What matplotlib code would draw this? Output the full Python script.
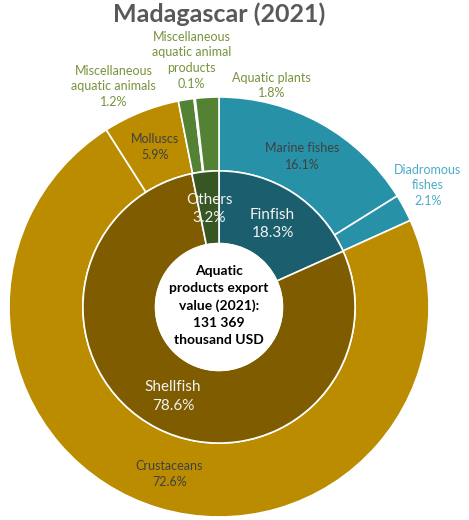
import numpy as np
import matplotlib.pyplot as plt

plt.rcParams['font.family'] = ['Lato', 'DejaVu Sans']

# outer ring: product groups (% of export value)
outer_names = ['Marine fishes', 'Diadromous\nfishes', 'Crustaceans', 'Molluscs',
               'Miscellaneous\naquatic animals', 'Miscellaneous\naquatic animal\nproducts',
               'Aquatic plants']
outer_vals = [16.1, 2.1, 72.6, 5.9, 1.2, 0.1, 1.8]
outer_cols = ['#2792A7', '#2792A7', '#BB8C00', '#BB8C00', '#548235', '#548235', '#548235']

# inner ring: main categories
inner_names = ['Finfish', 'Shellfish', 'Others']
inner_vals = [18.3, 78.6, 3.2]
inner_cols = ['#1B5E6D', '#7F5C00', '#375623']

center_txt = 'Aquatic\nproducts export\nvalue (2021):\n131 369\nthousand USD'

fig = plt.figure(figsize=(4.69, 5.2), dpi=100)
ax = fig.add_axes([9 / 469, 3 / 520, 420 / 469, 420 / 520])

R_out, W_out = 1.0, 0.352
R_in, W_in = 0.648, 0.346

wo, _ = ax.pie(outer_vals, radius=R_out, colors=outer_cols, startangle=90, counterclock=False,
               wedgeprops=dict(width=W_out, edgecolor='white', linewidth=1.2))
wi, _ = ax.pie(inner_vals, radius=R_in, colors=inner_cols, startangle=90, counterclock=False,
               wedgeprops=dict(width=W_in, edgecolor='white', linewidth=1.2))
ax.add_patch(plt.Circle((0, 0), R_in - W_in, color='white', zorder=5))
ax.set_xlim(-1, 1)
ax.set_ylim(-1, 1)


def mid(w):
    return np.deg2rad((w.theta1 + w.theta2) / 2)


def lab(name, v):
    return f'{name}\n{v}%'


# labels inside the outer ring
for i, r in [(0, 0.82), (2, 0.83), (3, 0.82)]:
    a = mid(wo[i])
    ax.text(r * np.cos(a), r * np.sin(a), lab(outer_names[i], outer_vals[i]),
            ha='center', va='center', fontsize=9, color='#404040', linespacing=1.45)

# diadromous fishes sits outside the ring
ax.text(0.995, 0.58, lab(outer_names[1], outer_vals[1]),
        ha='center', va='center', fontsize=9, color='#4BACC6', linespacing=1.35)

# small green slices, labels pushed above the ring
green = '#77933C'
ax.text(-0.502, 1.052, lab(outer_names[4], outer_vals[4]), ha='center', va='center',
        fontsize=9, color=green, linespacing=1.35)
ax.text(-0.13, 1.175, lab(outer_names[5], outer_vals[5]), ha='center', va='center',
        fontsize=9, color=green, linespacing=1.35)
ax.text(0.25, 1.055, lab(outer_names[6], outer_vals[6]), ha='center', va='center',
        fontsize=9, color=green, linespacing=1.35)

# inner ring labels
for i, r in [(0, 0.47), (1, 0.48), (2, 0.47)]:
    a = mid(wi[i])
    ax.text(r * np.cos(a), r * np.sin(a), lab(inner_names[i], inner_vals[i]),
            ha='center', va='center', fontsize=11, color='#F2F2F2', linespacing=1.4, zorder=6)

ax.text(0, 0.007, center_txt, ha='center', va='center', fontsize=10, fontweight='bold',
        color='black', linespacing=1.5, zorder=6)

fig.text(219 / 469, 1 - 14 / 520, 'Madagascar (2021)', ha='center', va='center',
         fontsize=18, fontweight='bold', color='#595959')

fig.savefig('out.png', dpi=100)
